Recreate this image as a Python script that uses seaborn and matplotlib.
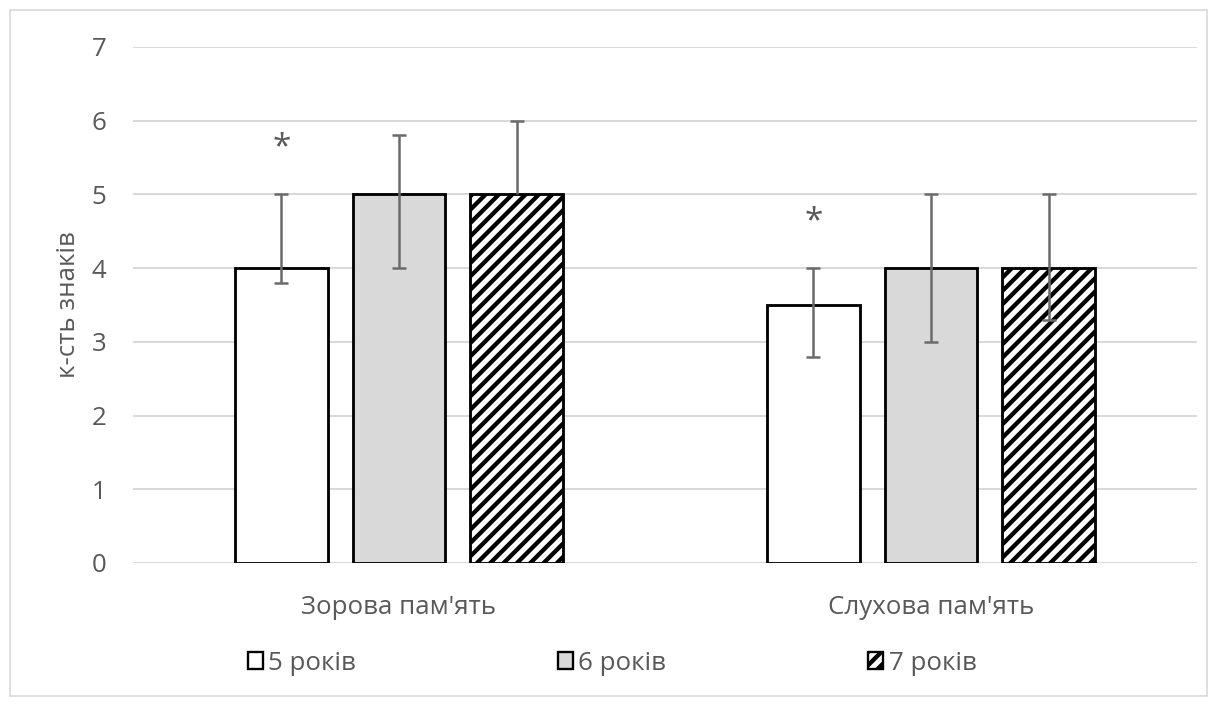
import numpy as np
import pandas as pd
import matplotlib
matplotlib.use("Agg")
import matplotlib.pyplot as plt
from matplotlib.patches import Patch, Rectangle
import seaborn as sns

categories = ["Зорова пам'ять", "Слухова пам'ять"]
ages = ["5 років", "6 років", "7 років"]
values_5 = [4.0, 3.5]
values_6 = [5.0, 4.0]
values_7 = [5.0, 4.0]
low_5 = [3.8, 2.8]
high_5 = [5.0, 4.0]
low_6 = [4.0, 3.0]
high_6 = [5.8, 5.0]
low_7 = [5.0, 3.3]
high_7 = [6.0, 5.0]
star_y = [5.63, 4.63]
y_ticks = [0, 1, 2, 3, 4, 5, 6, 7]

values = [values_5, values_6, values_7]
lows = [low_5, low_6, low_7]
highs = [high_5, high_6, high_7]

rows = []
for a, vals in zip(ages, values):
    for c, v in zip(categories, vals):
        rows.append({"category": c, "age": a, "value": v})
df = pd.DataFrame(rows)

sns.set_theme(style="white")
plt.rcParams['font.family'] = ['Open Sans', 'DejaVu Sans']
plt.rcParams['hatch.linewidth'] = 2.6
plt.rcParams['hatch.color'] = 'black'

TXT = '#595959'
GRID = '#d9d9d9'
FS = 15.5
DPI = 120
fig = plt.figure(figsize=(1217 / DPI, 704 / DPI), dpi=DPI)
ax = fig.add_axes([133 / 1217, 1 - 563 / 704, (1197 - 133) / 1217, (563 - 47) / 704])

fills = ['white', '#d9d9d9', 'white']
sns.barplot(data=df, x='category', y='value', hue='age', hue_order=ages,
            order=categories, palette=fills, edgecolor='black', linewidth=1.7,
            width=0.663, gap=0.21, errorbar=None, legend=False, ax=ax, zorder=3,
            saturation=1)

bar_conts = list(ax.containers)
for bar in bar_conts[2]:
    bar.set_hatch('///')

for i, cont in enumerate(bar_conts):
    for j, bar in enumerate(list(cont.patches)):
        x = bar.get_x() + bar.get_width() / 2
        v = values[i][j]
        lo = v - lows[i][j]
        hi = highs[i][j] - v
        if lo > 0:
            ax.errorbar(x, v, yerr=[[lo], [hi]], fmt='none', ecolor='#6b6b6b',
                        elinewidth=1.5, capsize=4, capthick=1.5, zorder=4)
        else:
            ax.errorbar(x, v, yerr=[[0], [hi]], fmt='none', ecolor='#6b6b6b',
                        elinewidth=1.5, capsize=4, capthick=1.5, zorder=4,
                        errorevery=1)
            # hide the zero-length lower cap under the bar outline
            ax.containers[-1].lines[1][0].set_zorder(2)
        if i == 0:
            ax.text(x, star_y[j], '*', ha='center', va='center',
                    fontsize=20, color=TXT, zorder=5)

ax.set_ylim(0, 7)
ax.set_xlim(-0.5, 1.5)
ax.set_yticks(y_ticks)
ax.yaxis.grid(True, color=GRID, linewidth=1.2, zorder=0)
ax.set_axisbelow(True)
for s in ax.spines.values():
    s.set_visible(False)
ax.tick_params(axis='both', length=0, labelsize=FS, labelcolor=TXT)
ax.tick_params(axis='y', pad=16)
ax.tick_params(axis='x', pad=19)
ax.set_xlabel('')
ax.set_ylabel('к-сть знаків', fontsize=FS, color=TXT, labelpad=6)

handles = [Patch(facecolor=fills[k], edgecolor='black', linewidth=1.4,
                 hatch='///' if k == 2 else None) for k in range(3)]
fig.legend(handles, ages, loc='center', bbox_to_anchor=(0.503, 0.058), ncol=3,
           frameon=False, fontsize=FS, labelcolor=TXT, handlelength=0.6,
           handleheight=0.6, handletextpad=0.2, columnspacing=7.8)

fig.patches.append(Rectangle((10 / 1217, 8 / 704), 1197 / 1217, 686 / 704,
                             transform=fig.transFigure, fill=False,
                             edgecolor=GRID, linewidth=1.0))

fig.savefig('out.png', dpi=DPI)
